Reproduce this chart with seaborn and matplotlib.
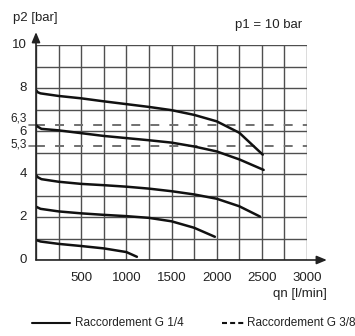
import numpy as np
import pandas as pd
import seaborn as sns
import matplotlib.pyplot as plt
from matplotlib.lines import Line2D

# ---- data ----
qn_c1 = [0, 20, 50, 250, 500, 750, 1000, 1250, 1500, 1750, 2000, 2250, 2510]
p2_c1 = [7.9, 7.8, 7.75, 7.63, 7.52, 7.38, 7.25, 7.12, 6.97, 6.75, 6.45, 5.92, 4.9]

qn_c2 = [0, 20, 60, 250, 500, 750, 1000, 1250, 1500, 1750, 2000, 2250, 2520]
p2_c2 = [6.28, 6.2, 6.1, 6.03, 5.9, 5.77, 5.67, 5.57, 5.46, 5.28, 5.05, 4.68, 4.19]

qn_c3 = [0, 20, 60, 250, 500, 750, 1000, 1250, 1500, 1750, 2000, 2250, 2480]
p2_c3 = [3.95, 3.85, 3.76, 3.64, 3.54, 3.48, 3.41, 3.32, 3.2, 3.05, 2.85, 2.5, 2.02]

qn_c4 = [0, 50, 250, 500, 750, 1000, 1250, 1500, 1750, 1980]
p2_c4 = [2.48, 2.38, 2.26, 2.17, 2.1, 2.04, 1.96, 1.8, 1.5, 1.08]

qn_c5 = [0, 50, 250, 500, 750, 1000, 1117]
p2_c5 = [0.93, 0.86, 0.75, 0.65, 0.54, 0.37, 0.15]

ref_levels = [6.3, 5.3]
ref_labels = ["6,3", "5,3"]

x_ticks = [500, 1000, 1500, 2000, 2500, 3000]
y_ticks = [0, 2, 4, 6, 8, 10]

legend_labels = ["Raccordement G 1/4", "Raccordement G 3/8"]

curves = [(qn_c1, p2_c1), (qn_c2, p2_c2), (qn_c3, p2_c3), (qn_c4, p2_c4), (qn_c5, p2_c5)]
frames = []
for i, (q, p) in enumerate(curves):
    frames.append(pd.DataFrame({"qn": q, "p2": p, "curve": f"c{i}"}))
df = pd.concat(frames, ignore_index=True)

# ---- figure ----
sns.set_style("white")
plt.rcParams['font.family'] = ['Liberation Sans Narrow', 'Liberation Sans', 'DejaVu Sans']

W, H = 355, 336
fig = plt.figure(figsize=(W / 100, H / 100), dpi=100)
ax = fig.add_axes([36 / W, (H - 260) / H, (307 - 36) / W, (260 - 45) / H])

grid_col = "#4f4f4f"
txt_col = "#222222"
ax.set_xlim(0, 3000)
ax.set_ylim(0, 10)
ax.set_xticks(np.arange(0, 3001, 250))
ax.set_yticks(np.arange(0, 11, 1))
ax.set_xticklabels([])
ax.set_yticklabels([])
ax.tick_params(length=0)
ax.grid(True, color=grid_col, linewidth=1.0)
for s in ax.spines.values():
    s.set_visible(False)

# reference dashed lines
for lv in ref_levels:
    ax.axhline(lv, color="#707070", linewidth=1.4, dashes=(4.6, 5.2), zorder=2)

sns.lineplot(data=df, x="qn", y="p2", units="curve", estimator=None,
             color="#111111", linewidth=1.8, sort=False, ax=ax, zorder=3, legend=False)
ax.set_xlabel("")
ax.set_ylabel("")

# axes with arrows
arrow_kw = dict(arrowstyle="-|>,head_length=0.6,head_width=0.25",
                color="#222222", lw=1.2, shrinkA=0, shrinkB=0)
ax.annotate("", xy=(0, 10.6), xytext=(0, 0), arrowprops=arrow_kw, annotation_clip=False)
ax.annotate("", xy=(3220, 0), xytext=(0, 0), arrowprops=arrow_kw, annotation_clip=False)

# tick labels
for v in x_ticks:
    ax.text(v, -0.55, str(v), ha="center", va="top", fontsize=9.5, color=txt_col)
for v in y_ticks:
    yy = 5.95 if v == 6 else v
    ax.text(-100, yy, str(v), ha="right", va="center", fontsize=9.5, color=txt_col)
for lv, lb in zip(ref_levels, ref_labels):
    off = 0.3 if lv == 6.3 else 0.05
    ax.text(-100, lv + off, lb, ha="right", va="center", fontsize=8.5, color=txt_col)
    ax.plot([-80, 0], [lv, lv], color="#707070", lw=1.2, clip_on=False)

# titles
fig.text(13 / W, 1 - 18 / H, "p2 [bar]", ha="left", va="center", fontsize=9.5, color=txt_col)
fig.text(302 / W, 1 - 25 / H, "p1 = 10 bar", ha="right", va="center", fontsize=9.5, color=txt_col)
fig.text(327 / W, 1 - 294 / H, "qn [l/min]", ha="right", va="center", fontsize=9.5, color=txt_col)

# legend (drawn manually to match handle lengths)
ly = 1 - 323 / H
fig.add_artist(Line2D([32 / W, 70 / W], [ly, ly], transform=fig.transFigure,
                      color="#111111", lw=1.5))
fig.text(75 / W, ly, legend_labels[0], ha="left", va="center", fontsize=8.5, color=txt_col)
fig.add_artist(Line2D([222 / W, 244 / W], [ly, ly], transform=fig.transFigure,
                      color="#111111", lw=1.5, dashes=(2.4, 1.5)))
fig.text(247 / W, ly, legend_labels[1], ha="left", va="center", fontsize=8.5, color=txt_col)

fig.savefig("out.png", dpi=100)
